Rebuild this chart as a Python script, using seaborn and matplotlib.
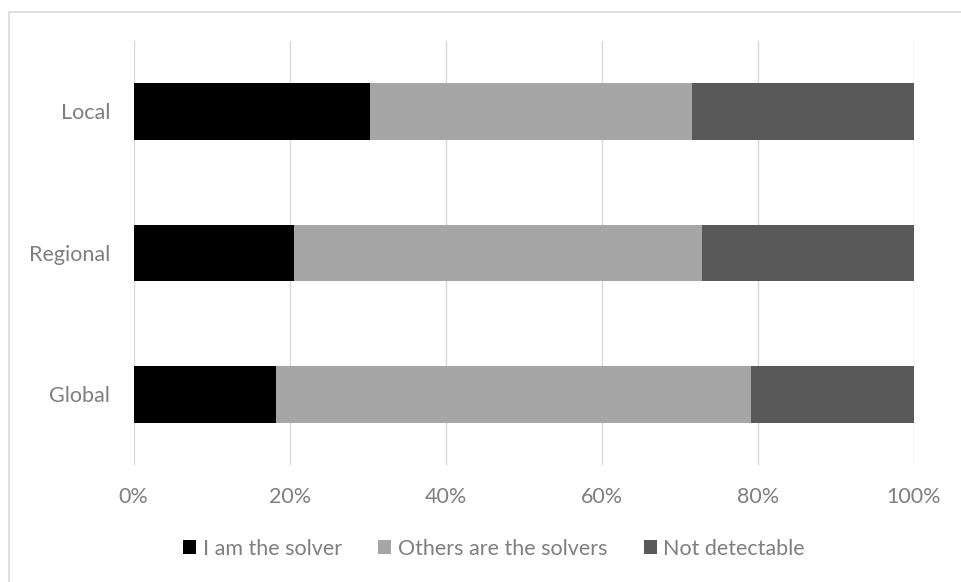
import pandas as pd
import matplotlib.pyplot as plt
from matplotlib.patches import Rectangle, Patch
from matplotlib.ticker import PercentFormatter
import seaborn as sns

# Share of answers per scope (percent)
scopes = ["Local", "Regional", "Global"]
series_names = ["I am the solver", "Others are the solvers", "Not detectable"]
i_am_solver = [30.3, 20.5, 18.2]
others_solvers = [41.3, 52.4, 60.9]
not_detectable = [28.4, 27.1, 20.9]
x_ticks = [0, 20, 40, 60, 80, 100]

colors = ["#000000", "#a6a6a6", "#595959"]
text_color = "#7f7f7f"

sns.set_theme(style="white")
plt.rcParams["font.family"] = ["Lato", "DejaVu Sans"]

df = pd.DataFrame({
    "scope": scopes,
    "s1": i_am_solver,
    "s2": others_solvers,
    "s3": not_detectable,
})
df["c1"] = df["s1"]
df["c2"] = df["s1"] + df["s2"]
df["c3"] = df["s1"] + df["s2"] + df["s3"]

fig = plt.figure(figsize=(9.61, 5.82), dpi=100)
ax = fig.add_axes([0.139, 0.201, 0.812, 0.729])

# stacked bars: draw cumulative totals from the back to the front
for col, color in zip(["c3", "c2", "c1"], colors[::-1]):
    sns.barplot(data=df, x=col, y="scope", orient="h", color=color,
                width=0.4, ax=ax, linewidth=0, saturation=1)

ax.set_xlim(0, 100)
ax.set_ylim(2.5, -0.5)
ax.set_xticks(x_ticks)
ax.xaxis.set_major_formatter(PercentFormatter(decimals=0))
ax.set_xlabel("")
ax.set_ylabel("")
ax.grid(axis="x", color="#d9d9d9", linewidth=1.0)
ax.grid(axis="y", visible=False)
ax.set_axisbelow(True)
for s in ax.spines.values():
    s.set_visible(False)
ax.tick_params(axis="both", length=0, labelsize=15.5, labelcolor=text_color)
ax.tick_params(axis="x", pad=16)
ax.tick_params(axis="y", pad=17)

handles = [Patch(facecolor=c, edgecolor="none", label=n) for c, n in zip(colors, series_names)]
leg = fig.legend(handles=handles, loc="center", bbox_to_anchor=(0.514, 0.057), ncol=3,
                 frameon=False, fontsize=15.5, handlelength=0.6, handleheight=0.6,
                 handletextpad=0.3, columnspacing=1.7)
for t in leg.get_texts():
    t.set_color(text_color)

# chart border
fig.patches.append(Rectangle((9 / 961, -0.1), 1.2, 1 - 12 / 582 + 0.1,
                             transform=fig.transFigure, fill=False,
                             edgecolor="#d9d9d9", linewidth=1.2))

fig.savefig("out.png", dpi=100)
